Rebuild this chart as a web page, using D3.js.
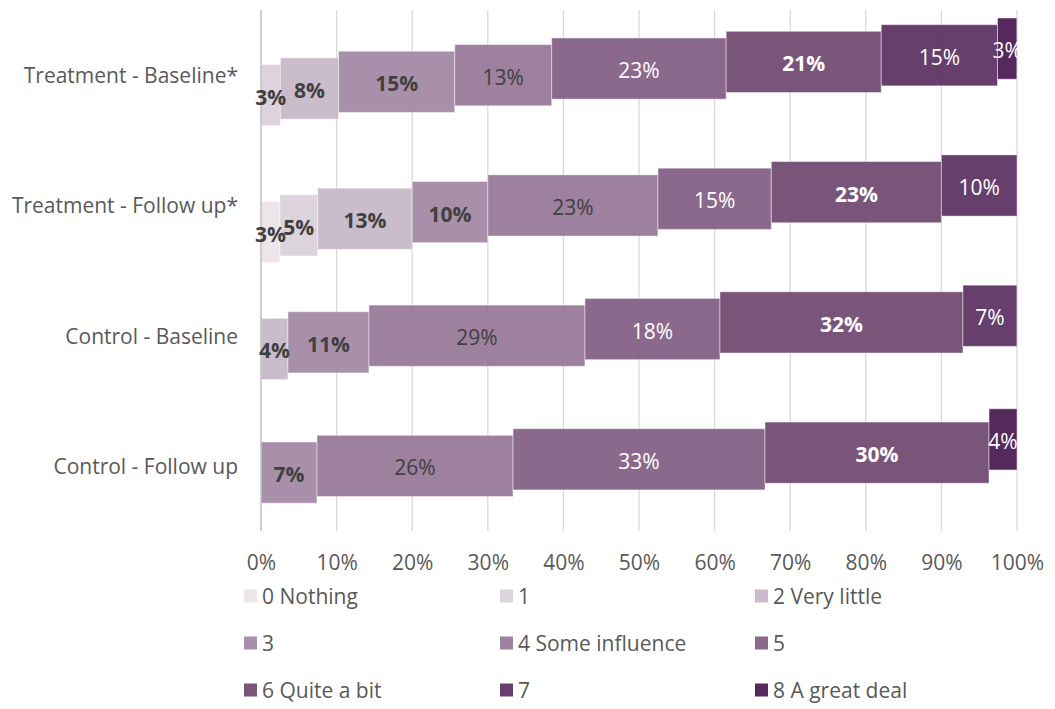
<!DOCTYPE html>
<html>
<head>
<meta charset="utf-8">
<script src="https://cdn.jsdelivr.net/npm/d3@7"></script>
<style>
  html, body { margin: 0; padding: 0; background: #fff; }
  svg { display: block; font-family: "Open Sans", "Noto Sans", sans-serif; }
</style>
</head>
<body>
<svg id="chart" width="1055" height="709"></svg>
<script>
// Groups shown as rows, top to bottom
const categories = [
  "Treatment - Baseline*",
  "Treatment - Follow up*",
  "Control - Baseline",
  "Control - Follow up"
];

// Response scale (one series per answer)
const seriesNames = [
  "0 Nothing", "1", "2 Very little", "3", "4 Some influence",
  "5", "6 Quite a bit", "7", "8 A great deal"
];

// Share of respondents (%) per answer, one array per group
const treatmentBaseline = [0, 2.56, 7.69, 15.38, 12.82, 23.08, 20.51, 15.38, 2.56];
const treatmentFollowUp = [2.5, 5, 12.5, 10, 22.5, 15, 22.5, 10, 0];
const controlBaseline   = [0, 0, 3.57, 10.71, 28.57, 17.86, 32.14, 7.14, 0];
const controlFollowUp   = [0, 0, 0, 7.41, 25.93, 33.33, 29.63, 0, 3.70];

const xTicks = [0, 10, 20, 30, 40, 50, 60, 70, 80, 90, 100];

const groupValues = [treatmentBaseline, treatmentFollowUp, controlBaseline, controlFollowUp];

// Visual styling per series (fills are slightly translucent)
const colors = ["#eae3e9", "#d9ced8", "#c5b5c5", "#9f84a1", "#927393",
                "#7e597f", "#6b436c", "#562a5c", "#44124b"];
const fillOpacity = 0.9;
const labelBold  = [true, true, true, true, false, false, true, false, false];
const labelLight = [false, false, false, false, false, true, true, true, true];
const fontSize = 21;

const svg = d3.select("#chart");

const x = d3.scaleLinear().domain([0, 100]).range([261, 1017]);
const y = d3.scaleBand().domain(categories).range([10, 531]).padding(0);
const band = y.bandwidth();
const barH = band * 0.47;
const step = band * 0.051;
const groupHalf = band * 0.4395;

// Gridlines
svg.append("g")
  .selectAll("line")
  .data(xTicks.filter(d => d > 0))
  .join("line")
  .attr("x1", d => x(d)).attr("x2", d => x(d))
  .attr("y1", 10).attr("y2", 531)
  .attr("stroke", "#d9d9d9")
  .attr("stroke-width", 1.3);

// Build segments: cumulative start per group, each series stepped upward
const segments = [];
groupValues.forEach((vals, gi) => {
  let cum = 0;
  vals.forEach((v, si) => {
    const center = y(categories[gi]) + band / 2;
    segments.push({
      group: categories[gi], series: si, value: v, x0: cum, x1: cum + v,
      top: center + groupHalf - barH - si * step
    });
    cum += v;
  });
});

const bars = segments.filter(d => d.value > 0);

svg.append("g")
  .selectAll("rect")
  .data(bars)
  .join("rect")
  .attr("x", d => x(d.x0))
  .attr("y", d => d.top)
  .attr("width", d => x(d.x1) - x(d.x0))
  .attr("height", barH)
  .attr("fill", d => colors[d.series])
  .attr("fill-opacity", fillOpacity)
  .attr("stroke", "#ffffff")
  .attr("stroke-opacity", 0.45)
  .attr("stroke-width", 1);

// Value axis line at 0%
svg.append("line")
  .attr("x1", x(0)).attr("x2", x(0))
  .attr("y1", 10).attr("y2", 531)
  .attr("stroke", "#bfbfbf")
  .attr("stroke-width", 1.5);

// Segment labels
svg.append("g")
  .selectAll("text")
  .data(bars)
  .join("text")
  .attr("x", d => (x(d.x0) + x(d.x1)) / 2)
  .attr("y", d => d.top + barH / 2 + 1.5)
  .attr("text-anchor", "middle")
  .attr("dominant-baseline", "central")
  .attr("font-size", fontSize)
  .attr("font-weight", d => labelBold[d.series] ? 700 : 400)
  .attr("fill", d => labelLight[d.series] ? "#ffffff" : "#404040")
  .text(d => Math.round(d.value) + "%");

// Category axis labels
svg.append("g")
  .selectAll("text")
  .data(categories)
  .join("text")
  .attr("x", 238)
  .attr("y", d => y(d) + band / 2)
  .attr("text-anchor", "end")
  .attr("dominant-baseline", "central")
  .attr("font-size", fontSize)
  .attr("fill", "#595959")
  .text(d => d);

// Bottom axis tick labels
const xAxis = d3.axisBottom(x)
  .tickValues(xTicks)
  .tickSize(0)
  .tickPadding(0)
  .tickFormat(d => d + "%");
const gx = svg.append("g").attr("transform", "translate(0,531)").call(xAxis);
gx.select(".domain").remove();
gx.selectAll("text")
  .attr("y", 31)
  .attr("dy", null)
  .attr("dominant-baseline", "central")
  .attr("font-size", fontSize)
  .attr("font-family", "\"Open Sans\", \"Noto Sans\", sans-serif")
  .attr("fill", "#595959");

// Legend: three columns, three rows
const legendCol = d3.scaleOrdinal().domain([0, 1, 2]).range([244, 500, 755]);
const legendRow = d3.scaleOrdinal().domain([0, 1, 2]).range([596, 643, 690]);
const legend = svg.append("g")
  .selectAll("g")
  .data(seriesNames)
  .join("g")
  .attr("transform", (d, i) => `translate(${legendCol(i % 3)},${legendRow(Math.floor(i / 3))})`);
legend.append("rect")
  .attr("x", 0).attr("y", -6.5)
  .attr("width", 13).attr("height", 13)
  .attr("fill", (d, i) => colors[i])
  .attr("fill-opacity", fillOpacity);
legend.append("text")
  .attr("x", 18)
  .attr("y", 0)
  .attr("dominant-baseline", "central")
  .attr("font-size", fontSize)
  .attr("fill", "#595959")
  .text(d => d);
</script>
</body>
</html>
